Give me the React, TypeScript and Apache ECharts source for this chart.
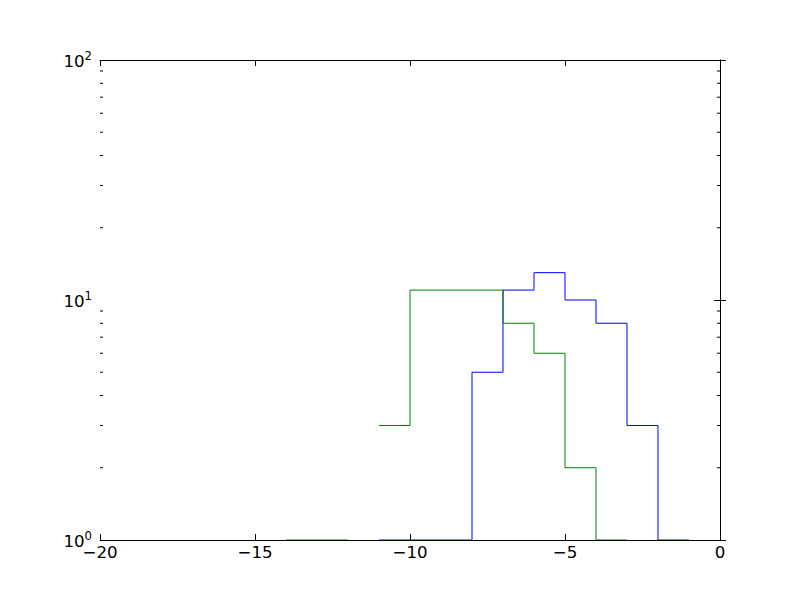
import React, { useEffect, useRef } from "react";
import * as echarts from "echarts";

const binEdges = [-14, -13, -12, -11, -10, -9, -8, -7, -6, -5, -4, -3, -2, -1];
const blueCounts = [0, 0, 0, 1, 1, 1, 5, 11, 13, 10, 8, 3, 1];
const greenCounts = [1, 1, 0, 3, 11, 11, 11, 8, 6, 2, 1, 0, 0];
const xTicks = [-20, -15, -10, -5, 0];
const yMinorTicks = [2, 3, 4, 5, 6, 7, 8, 9, 20, 30, 40, 50, 60, 70, 80, 90];

function stepData(counts: number[]) {
  const out: (number | null)[][] = [];
  counts.forEach((c, i) => {
    const v = c > 0 ? c : null;
    out.push([binEdges[i], v as any]);
    out.push([binEdges[i + 1], v as any]);
  });
  return out;
}

const fmtX = (v: number) => String(v).replace("-", "\u2212");

export default function App() {
  const ref = useRef<HTMLDivElement>(null);
  useEffect(() => {
    const chart = echarts.init(ref.current!, null, { renderer: "svg" });
    const axisLine = { show: true, lineStyle: { color: "#000", width: 1 } };
    const font = "DejaVu Sans";
    const tick = { show: true, inside: true, length: 6, lineStyle: { color: "#000", width: 1 } };
    chart.setOption({
      animation: false,
      backgroundColor: "#fff",
      grid: { left: 100, right: 80, top: 60, bottom: 60 },
      xAxis: [
        {
          type: "value",
          min: -20,
          max: 0,
          interval: 5,
          position: "bottom",
          z: 10,
          axisLine,
          axisTick: tick,
          axisLabel: {
            show: true,
            color: "#000",
            fontFamily: font,
            fontSize: 16.67,
            margin: 4,
            formatter: (v: number) => (xTicks.includes(v) ? fmtX(v) : ""),
          },
          splitLine: { show: false },
        },
        {
          type: "value",
          min: -20,
          max: 0,
          interval: 5,
          position: "top",
          z: 10,
          axisLine,
          axisTick: tick,
          axisLabel: { show: false },
          splitLine: { show: false },
        },
      ],
      yAxis: [
        {
          type: "log",
          logBase: 10,
          min: 1,
          max: 100,
          position: "left",
          z: 10,
          axisLine,
          axisTick: tick,
          axisLabel: {
            show: true,
            color: "#000",
            fontFamily: font,
            fontSize: 16.67,
            margin: 8,
            formatter: (v: number) => `{b|10}{s|${Math.round(Math.log10(v))}}`,
            rich: {
              b: { fontSize: 16.67, fontFamily: font, color: "#000", verticalAlign: "bottom", lineHeight: 20 },
              s: { fontSize: 11.7, fontFamily: font, color: "#000", verticalAlign: "top", padding: [0, 0, 8, 0], lineHeight: 20 },
            },
          },
          splitLine: { show: false },
        },
        {
          type: "log",
          logBase: 10,
          min: 1,
          max: 100,
          position: "right",
          z: 10,
          axisLine,
          axisTick: tick,
          axisLabel: { show: false },
          splitLine: { show: false },
        },
      ],
      series: [
        {
          type: "custom",
          xAxisIndex: 0,
          yAxisIndex: 0,
          silent: true,
          clip: false,
          z: 10,
          data: yMinorTicks.map((v) => [-20, v]),
          renderItem: (params: any, api: any) => {
            const v = api.value(1);
            const l = api.coord([-20, v]);
            const r = api.coord([0, v]);
            const st = { stroke: "#000", lineWidth: 1 };
            return {
              type: "group",
              children: [
                { type: "line", shape: { x1: l[0], y1: l[1], x2: l[0] + 3, y2: l[1] }, style: st },
                { type: "line", shape: { x1: r[0] - 3, y1: r[1], x2: r[0], y2: r[1] }, style: st },
              ],
            };
          },
        },
        {
          type: "line",
          name: "blue",
          data: stepData(blueCounts),
          showSymbol: false,
          symbol: "none",
          connectNulls: false,
          lineStyle: { color: "#0000ff", width: 1 },
          itemStyle: { color: "#0000ff" },
          z: 3,
        },
        {
          type: "line",
          name: "green",
          data: stepData(greenCounts),
          showSymbol: false,
          symbol: "none",
          connectNulls: false,
          lineStyle: { color: "#008000", width: 1 },
          itemStyle: { color: "#008000" },
          z: 4,
        },
      ],
    });
    return () => chart.dispose();
  }, []);
  return <div ref={ref} style={{ width: 800, height: 600, position: "absolute", left: 0, top: 0 }} />;
}
